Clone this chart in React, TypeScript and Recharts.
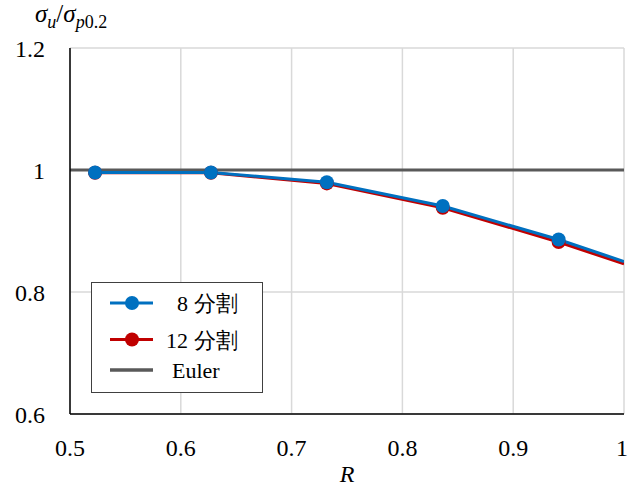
import React from "react";
import { LineChart, Line, XAxis, YAxis, CartesianGrid } from "recharts";

const R_VALUES = [0.5226, 0.6272, 0.7318, 0.8364, 0.941, 1.0];
const DIV8 = [0.996, 0.996, 0.98, 0.941, 0.886, 0.85];
const DIV12 = [0.9955, 0.9955, 0.978, 0.938, 0.882, 0.846];
const EULER_R = [0.5, 1.0];
const EULER = [1, 1];
const X_TICKS = [0.5, 0.6, 0.7, 0.8, 0.9, 1];
const Y_TICKS = [0.6, 0.8, 1, 1.2];
const SERIES_NAMES = ["8 分割", "12 分割", "Euler"];

const BLUE = "#0070C0";
const RED = "#C00000";
const GRAY = "#595959";
const FONT = "'Liberation Serif', 'Times New Roman', serif";
const FS = { fontFamily: FONT };

const data8 = R_VALUES.map((r, i) => ({ r, v: DIV8[i] }));
const data12 = R_VALUES.map((r, i) => ({ r, v: DIV12[i] }));
const dataEuler = EULER_R.map((r, i) => ({ r, v: EULER[i] }));

const makeDot = (color: string) => (p: any) =>
  p.index < 5 ? (
    <circle key={`d${p.index}`} cx={p.cx} cy={p.cy} r={7} fill={color} stroke="none" />
  ) : (
    <g key={`d${p.index}`} />
  );

const LegendBox = () => (
  <svg width={173} height={112} style={{ display: "block" }}>
    <rect x={0.5} y={0.5} width={171} height={110} fill="#fff" stroke="#404040" strokeWidth={1} />
    <line x1={19} x2={62} y1={21} y2={21} stroke={BLUE} strokeWidth={3} />
    <circle cx={41} cy={21} r={7} fill={BLUE} />
    <text x={86} y={29} fontSize={22} style={FS} fill="#000">{SERIES_NAMES[0]}</text>
    <line x1={19} x2={62} y1={57.5} y2={57.5} stroke={RED} strokeWidth={3} />
    <circle cx={41} cy={57.5} r={7} fill={RED} />
    <text x={75} y={65.5} fontSize={22} style={FS} fill="#000">{SERIES_NAMES[1]}</text>
    <line x1={19} x2={62} y1={88} y2={88} stroke={GRAY} strokeWidth={3.5} />
    <text x={81} y={96} fontSize={22} style={FS} fill="#000">{SERIES_NAMES[2]}</text>
  </svg>
);

const TitleLabel = () => (
  <text x={35} y={22} style={FS} fill="#000" fontSize={25}>
    <tspan fontStyle="italic">σ</tspan>
    <tspan fontStyle="italic" fontSize={18} dy={6}>u</tspan>
    <tspan dy={-6}>/</tspan>
    <tspan fontStyle="italic">σ</tspan>
    <tspan fontStyle="italic" fontSize={18} dy={6}>p</tspan>
    <tspan fontSize={18}>0.2</tspan>
  </text>
);

export default function App() {
  return (
    <div style={{ position: "absolute", left: 0, top: 0, width: 628, height: 488, background: "#fff", fontFamily: FONT }}>
      <LineChart
        width={628}
        height={488}
        margin={{ top: 48, right: 4, left: 0, bottom: 0 }}
        style={FS}
      >
        <CartesianGrid stroke="#D9D9D9" strokeWidth={1.5} horizontalValues={Y_TICKS} verticalValues={X_TICKS} />
        <XAxis
          type="number"
          dataKey="r"
          domain={[0.5, 1]}
          ticks={X_TICKS}
          allowDataOverflow
          height={74}
          tickLine={false}
          tickSize={0}
          tickMargin={25}
          axisLine={{ stroke: "#000", strokeWidth: 1.5 }}
          tick={{ fill: "#000", fontSize: 24, style: FS }}
          tickFormatter={(v: number) => String(v)}
          label={{ value: "R", position: "insideBottom", offset: 6, fontSize: 24, fontStyle: "italic", fill: "#000", style: FS }}
        />
        <YAxis
          type="number"
          domain={[0.6, 1.2]}
          ticks={Y_TICKS}
          width={70}
          tickLine={false}
          tickSize={0}
          tickMargin={25}
          axisLine={{ stroke: "#000", strokeWidth: 1.5 }}
          tick={{ fill: "#000", fontSize: 24, style: FS }}
          tickFormatter={(v: number) => String(v)}
          label={{ content: () => <TitleLabel /> }}
        />
        <Line data={dataEuler} dataKey="v" name="Euler" stroke={GRAY} strokeWidth={3} dot={false} isAnimationActive={false} />
        <Line data={data12} dataKey="v" name="12 分割" stroke={RED} strokeWidth={3} dot={makeDot(RED)} isAnimationActive={false} />
        <Line data={data8} dataKey="v" name="8 分割" stroke={BLUE} strokeWidth={3} dot={makeDot(BLUE)} isAnimationActive={false} />
      </LineChart>
      <div style={{ position: "absolute", left: 91, top: 282 }}>
        <LegendBox />
      </div>
    </div>
  );
}
